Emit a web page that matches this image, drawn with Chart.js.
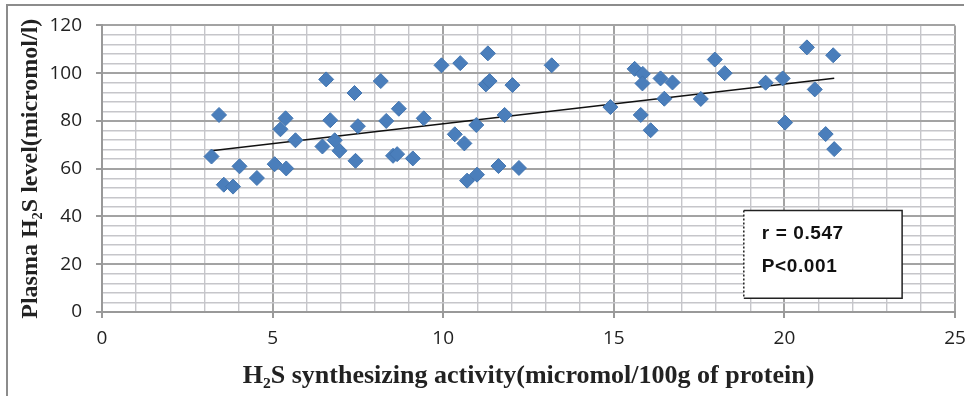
<!DOCTYPE html>
<html>
<head>
<meta charset="utf-8">
<script src="https://cdn.jsdelivr.net/npm/chart.js@4.4.1/dist/chart.umd.min.js"></script>
<style>
  html, body { margin: 0; padding: 0; background: #fff; }
  #wrap { position: relative; width: 967px; height: 396px; }
  #frame {
    position: absolute; left: 6px; top: 4px; width: 956px; height: 392px;
    border-top: 2px solid #8c8c8c; border-left: 2px solid #8c8c8c;
    pointer-events: none;
  }
</style>
</head>
<body>
<div id="wrap">
  <canvas id="chart" width="967" height="396"></canvas>
  <div id="frame"></div>
</div>
<script>
// H2S synthesizing activity (x) vs plasma H2S level (y)
const activity = [
  3.21, 3.43, 3.57, 3.84, 4.03, 4.54, 5.06, 5.23, 5.38, 5.40, 5.67, 6.46, 6.57, 6.69, 6.82, 6.96,
  7.40, 8.17, 7.50, 8.33, 8.70, 9.43, 7.43, 8.53, 8.65, 9.11, 9.95, 10.50, 11.31, 11.25, 11.36,
  12.03, 13.18, 10.34, 10.62, 10.97, 11.80, 10.70, 10.99, 11.62, 12.22,
  14.90, 15.61, 15.85, 15.84, 16.37, 16.72, 16.48, 15.79, 16.08, 17.55, 17.96, 18.25, 19.45,
  19.95, 20.02, 20.66, 21.43, 20.89, 21.21, 21.46
];
const plasmaLevel = [
  65.1, 82.5, 53.3, 52.5, 61.0, 56.1, 61.9, 76.5, 81.1, 60.1, 71.9, 69.3, 97.4, 80.3, 71.9, 67.5,
  91.7, 96.7, 77.8, 80.0, 85.1, 81.1, 63.3, 65.4, 66.1, 64.3, 103.3, 104.2, 108.3, 95.3, 96.7,
  95.0, 103.3, 74.4, 70.6, 78.3, 82.5, 55.0, 57.5, 61.1, 60.3,
  85.8, 101.8, 99.7, 95.7, 97.8, 96.1, 89.3, 82.5, 76.1, 89.2, 105.7, 100.0, 96.0,
  97.8, 79.3, 110.8, 107.5, 93.2, 74.5, 68.2
];
// linear trend line end points
const trendX = [3.21, 21.46];
const trendY = [67.5, 97.9];
// stats box text and its corners in data units
const statsText = ["r = 0.547", "P<0.001"];
const statsBoxX = [18.81, 23.45];
const statsBoxY = [42.5, 5.8];

const points = activity.map((v, i) => ({ x: v, y: plasmaLevel[i] }));
const trend = trendX.map((v, i) => ({ x: v, y: trendY[i] }));

const statsBox = {
  id: "statsBox",
  afterDatasetsDraw(chart) {
    const { ctx, scales } = chart;
    const x0 = scales.x.getPixelForValue(statsBoxX[0]);
    const x1 = scales.x.getPixelForValue(statsBoxX[1]);
    const y0 = scales.y.getPixelForValue(statsBoxY[0]);
    const y1 = scales.y.getPixelForValue(statsBoxY[1]);
    ctx.save();
    ctx.fillStyle = "#fff";
    ctx.fillRect(x0, y0, x1 - x0, y1 - y0);
    ctx.strokeStyle = "#222";
    ctx.lineWidth = 1.5;
    ctx.beginPath();
    ctx.moveTo(x0, y0); ctx.lineTo(x1, y0); ctx.lineTo(x1, y1); ctx.lineTo(x0, y1);
    ctx.stroke();
    ctx.setLineDash([2, 2]);
    ctx.beginPath();
    ctx.moveTo(x0, y0); ctx.lineTo(x0, y1);
    ctx.stroke();
    ctx.fillStyle = "#111";
    ctx.font = "bold 19px 'Liberation Sans', Arial, sans-serif";
    ctx.letterSpacing = "0.6px";
    ctx.textBaseline = "alphabetic";
    ctx.fillText(statsText[0], x0 + 18, y0 + 29);
    ctx.fillText(statsText[1], x0 + 18, y0 + 62);
    ctx.restore();
  }
};

const majorGrid = "#a3a3a3";
const minorGrid = "#c6c6ca";
const tickFont = { family: "'Open Sans', 'Liberation Sans', sans-serif", size: 19 };

new Chart(document.getElementById("chart"), {
  type: "scatter",
  data: {
    datasets: [
      {
        label: "Patients",
        data: points,
        pointStyle: "rectRot",
        pointRadius: 7.5,
        backgroundColor: "#4A7EBB",
        borderColor: "#4275b0",
        borderWidth: 1
      },
      {
        label: "Linear trend",
        data: trend,
        showLine: true,
        borderColor: "#111",
        borderWidth: 1.5,
        pointRadius: 0
      }
    ]
  },
  options: {
    responsive: false,
    animation: false,
    layout: { padding: { left: 0, right: 0, top: 23, bottom: 0 } },
    plugins: {
      legend: { display: false },
      tooltip: { enabled: false }
    },
    scales: {
      x: {
        type: "linear",
        min: 0,
        max: 25,
        afterFit: s => { s.height = 84; s.paddingRight = 12; },
        ticks: {
          stepSize: 1,
          autoSkip: false,
          maxRotation: 0,
          padding: 9,
          color: "#222",
          font: tickFont,
          callback: v => (v % 5 === 0 ? v : "")
        },
        grid: {
          color: c => (c.tick && c.tick.value % 5 === 0 ? majorGrid : minorGrid),
          lineWidth: c => (c.tick && c.tick.value % 5 === 0 ? 2 : 1.4),
          tickColor: c => (c.tick && c.tick.value % 5 === 0 ? "#999" : "rgba(0,0,0,0)"),
          tickLength: 6
        },
        border: { color: "#999", width: 2 },
        title: {
          display: true,
          text: "H₂S synthesizing activity(micromol/100g of protein)",
          color: "#222",
          font: { family: "'Liberation Serif', 'Times New Roman', serif", size: 26, weight: "bold" },
          padding: { top: 0, bottom: 4 }
        }
      },
      y: {
        min: 0,
        max: 120,
        afterFit: s => { s.width = 102; },
        ticks: {
          stepSize: 4,
          autoSkip: false,
          padding: 14,
          color: "#222",
          font: tickFont,
          callback: v => (v % 20 === 0 ? v : "")
        },
        grid: {
          color: c => (c.tick && c.tick.value % 20 === 0 ? majorGrid : minorGrid),
          lineWidth: c => (c.tick && c.tick.value % 20 === 0 ? 2 : 1.4),
          tickColor: c => (c.tick && c.tick.value % 20 === 0 ? "#999" : "rgba(0,0,0,0)"),
          tickLength: 6
        },
        border: { color: "#999", width: 2 },
        title: {
          display: true,
          text: "Plasma H₂S level(micromol/l)",
          color: "#222",
          font: { family: "'Liberation Serif', 'Times New Roman', serif", size: 24, weight: "bold" },
          padding: { top: 16, bottom: 0 }
        }
      }
    }
  },
  plugins: [statsBox]
});
</script>
</body>
</html>
